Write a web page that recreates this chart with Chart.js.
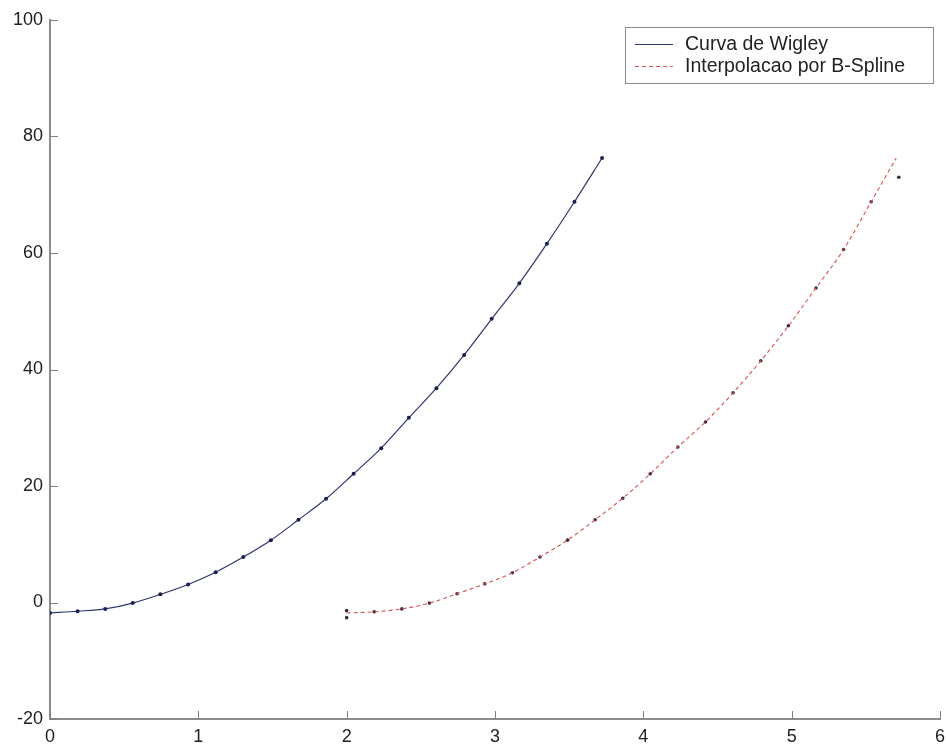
<!DOCTYPE html>
<html>
<head>
<meta charset="utf-8">
<script src="https://cdn.jsdelivr.net/npm/chart.js@4.4.1/dist/chart.umd.min.js"></script>
<style>
html,body{margin:0;padding:0;background:#fff;}
#wrap{position:relative;width:946px;height:745px;}
</style>
</head>
<body>
<div id="wrap"><canvas id="c" width="946" height="745"></canvas></div>
<script>
// ---- data ----
const wigleyX = [0.000,0.186,0.372,0.558,0.744,0.931,1.117,1.303,1.489,1.675,1.861,2.047,2.233,2.419,2.605,2.792,2.978,3.164,3.350,3.536,3.722];
const wigleyY = [-1.8,-1.5,-1.1,-0.1,1.4,3.1,5.2,7.8,10.7,14.2,17.8,22.1,26.5,31.7,36.8,42.5,48.7,54.8,61.6,68.8,76.3];

const splineX = [2.000,2.186,2.372,2.558,2.744,2.931,3.117,3.303,3.489,3.675,3.861,4.047,4.233,4.419,4.605,4.792,4.978,5.164,5.350,5.536,5.705];
const splineY = [-1.8,-1.6,-1.1,-0.1,1.5,3.2,5.1,7.8,10.7,14.2,17.9,22.1,26.7,31.0,36.0,41.5,47.5,54.0,60.6,68.8,76.3];

const ctrlX = [2.000,2.000,2.186,2.372,2.558,2.744,2.931,3.117,3.303,3.489,3.675,3.861,4.047,4.233,4.419,4.605,4.792,4.978,5.164,5.350,5.536,5.722];
const ctrlY = [-1.4,-2.6,-1.6,-1.1,-0.1,1.5,3.2,5.1,7.8,10.7,14.2,17.9,22.1,26.7,31.0,36.0,41.5,47.5,54.0,60.6,68.8,73.0];

const xTicks = [0,1,2,3,4,5,6];
const yTicks = [-20,0,20,40,60,80,100];
const legendLabels = ["Curva de Wigley","Interpolacao por B-Spline"];

const zip = (xs, ys) => xs.map((x, i) => ({x: x, y: ys[i]}));

const blue = '#2e3670';
const red = '#d9534f';
const FONT = '"Liberation Sans", Arial, sans-serif';

// inward tick marks, MATLAB-style
const innerTicks = {
  id: 'innerTicks',
  afterDraw(chart) {
    const {ctx, chartArea, scales} = chart;
    ctx.save();
    ctx.strokeStyle = '#7f7f7f';
    ctx.lineWidth = 1;
    xTicks.forEach(v => {
      const px = Math.round(scales.x.getPixelForValue(v)) + 0.5;
      ctx.beginPath();
      ctx.moveTo(px, chartArea.bottom);
      ctx.lineTo(px, chartArea.bottom - 8);
      ctx.stroke();
    });
    yTicks.forEach(v => {
      const py = Math.round(scales.y.getPixelForValue(v)) + 0.5;
      ctx.beginPath();
      ctx.moveTo(chartArea.left, py);
      ctx.lineTo(chartArea.left + 8, py);
      ctx.stroke();
    });
    ctx.restore();
  }
};

// boxed legend in the upper right
const boxLegend = {
  id: 'boxLegend',
  afterDraw(chart) {
    const ctx = chart.ctx;
    const x0 = 625, y0 = 27, w = 308, h = 56;
    ctx.save();
    ctx.fillStyle = '#fff';
    ctx.fillRect(x0, y0, w, h);
    ctx.strokeStyle = '#8a8a8a';
    ctx.lineWidth = 1;
    ctx.strokeRect(x0 + 0.5, y0 + 0.5, w, h);
    const rows = [
      {label: legendLabels[0], color: blue, dash: []},
      {label: legendLabels[1], color: red, dash: [4, 3]}
    ];
    ctx.font = '19.5px ' + FONT;
    ctx.textBaseline = 'middle';
    rows.forEach((r, i) => {
      const yy = y0 + 17 + i * 22;
      ctx.strokeStyle = r.color;
      ctx.setLineDash(r.dash);
      ctx.beginPath();
      ctx.moveTo(x0 + 10, yy + 0.5);
      ctx.lineTo(x0 + 48, yy + 0.5);
      ctx.stroke();
      ctx.setLineDash([]);
      ctx.fillStyle = '#222';
      ctx.fillText(r.label, x0 + 60, yy + 1);
    });
    ctx.restore();
  }
};

new Chart(document.getElementById('c'), {
  type: 'scatter',
  data: {
    datasets: [
      {
        label: legendLabels[0],
        data: zip(wigleyX, wigleyY),
        showLine: true,
        borderColor: blue,
        borderWidth: 1.2,
        pointRadius: 2,
        pointBackgroundColor: '#1b2050',
        pointBorderColor: '#1b2050',
        pointBorderWidth: 0,
        cubicInterpolationMode: 'monotone',
        fill: false
      },
      {
        label: legendLabels[1],
        data: zip(splineX, splineY),
        showLine: true,
        borderColor: red,
        borderWidth: 1.1,
        borderDash: [4, 3],
        pointRadius: 0,
        cubicInterpolationMode: 'monotone',
        fill: false
      },
      {
        label: 'pontos',
        data: zip(ctrlX, ctrlY),
        showLine: false,
        pointRadius: 1.8,
        pointBackgroundColor: '#3a2a40',
        pointBorderColor: '#3a2a40',
        pointBorderWidth: 0
      }
    ]
  },
  options: {
    responsive: false,
    animation: false,
    events: [],
    layout: {padding: {top: 20, right: 6, left: 0, bottom: 0}},
    plugins: {legend: {display: false}, tooltip: {enabled: false}},
    scales: {
      x: {
        type: 'linear',
        min: 0, max: 6,
        afterBuildTicks: s => { s.ticks = xTicks.map(v => ({value: v})); },
        afterFit: s => { s.height = 26; s.paddingLeft = 0; s.paddingRight = 0; },
        grid: {display: false, drawTicks: false},
        border: {display: true, color: '#8c8c8c', width: 2},
        ticks: {
          padding: 7,
          maxRotation: 0,
          color: '#222',
          font: {family: FONT, size: 18}
        }
      },
      y: {
        type: 'linear',
        min: -20, max: 100,
        afterBuildTicks: s => { s.ticks = yTicks.map(v => ({value: v})); },
        afterFit: s => { s.width = 50; s.paddingTop = 0; s.paddingBottom = 0; },
        grid: {display: false, drawTicks: false},
        border: {display: true, color: '#8c8c8c', width: 2},
        ticks: {
          padding: 7,
          color: '#222',
          font: {family: FONT, size: 18}
        }
      }
    }
  },
  plugins: [innerTicks, boxLegend]
});
</script>
</body>
</html>
